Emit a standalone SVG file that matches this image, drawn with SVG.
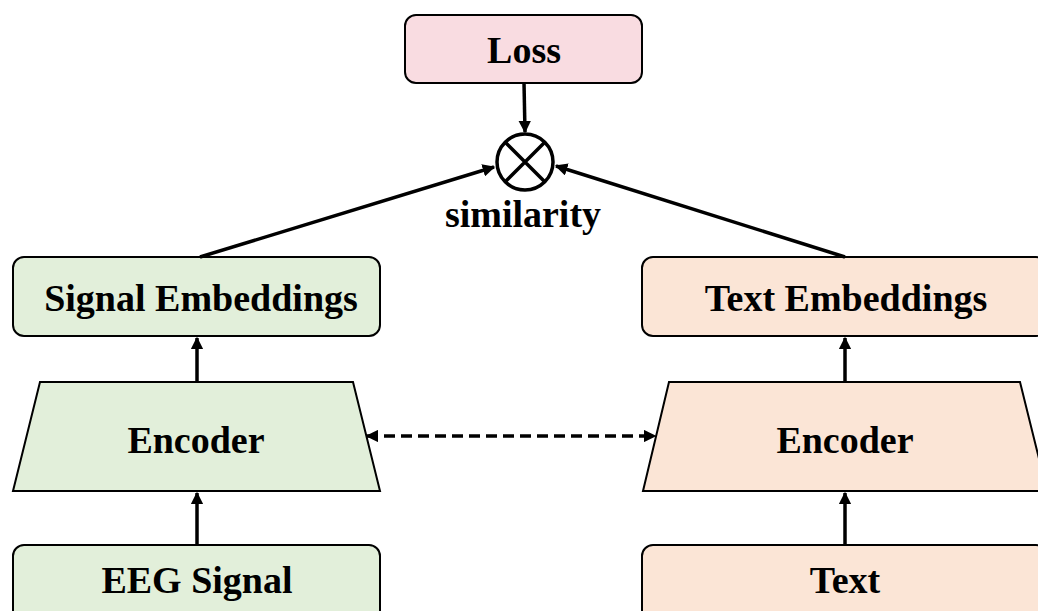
<svg xmlns="http://www.w3.org/2000/svg" width="1038" height="611" viewBox="0 0 1038 611">
<style>
.t{font-family:"Liberation Serif","Times New Roman",serif;font-weight:bold;font-size:38px;fill:#000;text-anchor:middle}
.box{stroke:#000;stroke-width:2}
.g{fill:#E2EFDA}.o{fill:#FBE5D6}.p{fill:#F9DCE1}
.c{stroke:#000;stroke-width:3.5;fill:none}
</style>
<defs>
<marker id="ah" viewBox="0 0 10 10" refX="9" refY="5" markerWidth="3.6" markerHeight="3.6" orient="auto-start-reverse" markerUnits="strokeWidth">
<path d="M0,0 L10,5 L0,10 z" fill="#000"/>
</marker>
</defs>
<g id="loss"><rect class="box p" x="405" y="15" width="237" height="68" rx="11"/><text class="t" x="524" y="63">Loss</text></g>
<g id="sim"><circle cx="525" cy="162" r="28" fill="#fff" stroke="#000" stroke-width="3.5"/><path d="M505,142 L545,182 M545,142 L505,182" stroke="#000" stroke-width="3.5"/><text class="t" x="523" y="227">similarity</text></g>
<g id="sigemb"><rect class="box g" x="13" y="257" width="367" height="79" rx="11"/><text class="t" x="201" y="311">Signal Embeddings</text></g>
<g id="enc1"><path class="box g" d="M40,382 L353,382 L380,491 L13,491 Z"/><text class="t" x="196" y="453">Encoder</text></g>
<g id="eeg"><rect class="box g" x="13" y="545" width="367" height="80" rx="11"/><text class="t" x="197" y="593">EEG Signal</text></g>
<g id="txtemb"><rect class="box o" x="642" y="257" width="405" height="79" rx="11"/><text class="t" x="846" y="311">Text Embeddings</text></g>
<g id="enc2"><path class="box o" d="M669,382 L1020,382 L1047,491 L643,491 Z"/><text class="t" x="845" y="453">Encoder</text></g>
<g id="text"><rect class="box o" x="642" y="545" width="405" height="80" rx="11"/><text class="t" x="845" y="593">Text</text></g>
<g id="connectors">
<line class="c" x1="524" y1="83" x2="525" y2="132" marker-end="url(#ah)"/>
<line class="c" x1="200" y1="257" x2="494" y2="167" marker-end="url(#ah)"/>
<line class="c" x1="845" y1="257" x2="556" y2="166" marker-end="url(#ah)"/>
<line class="c" x1="197" y1="382" x2="197" y2="338" marker-end="url(#ah)"/>
<line class="c" x1="197" y1="545" x2="197" y2="493" marker-end="url(#ah)"/>
<line class="c" x1="845" y1="382" x2="845" y2="338" marker-end="url(#ah)"/>
<line class="c" x1="845" y1="545" x2="845" y2="493" marker-end="url(#ah)"/>
<line class="c" x1="367" y1="436" x2="655" y2="436" stroke-dasharray="11,6" marker-start="url(#ah)" marker-end="url(#ah)"/>
</g>
</svg>
